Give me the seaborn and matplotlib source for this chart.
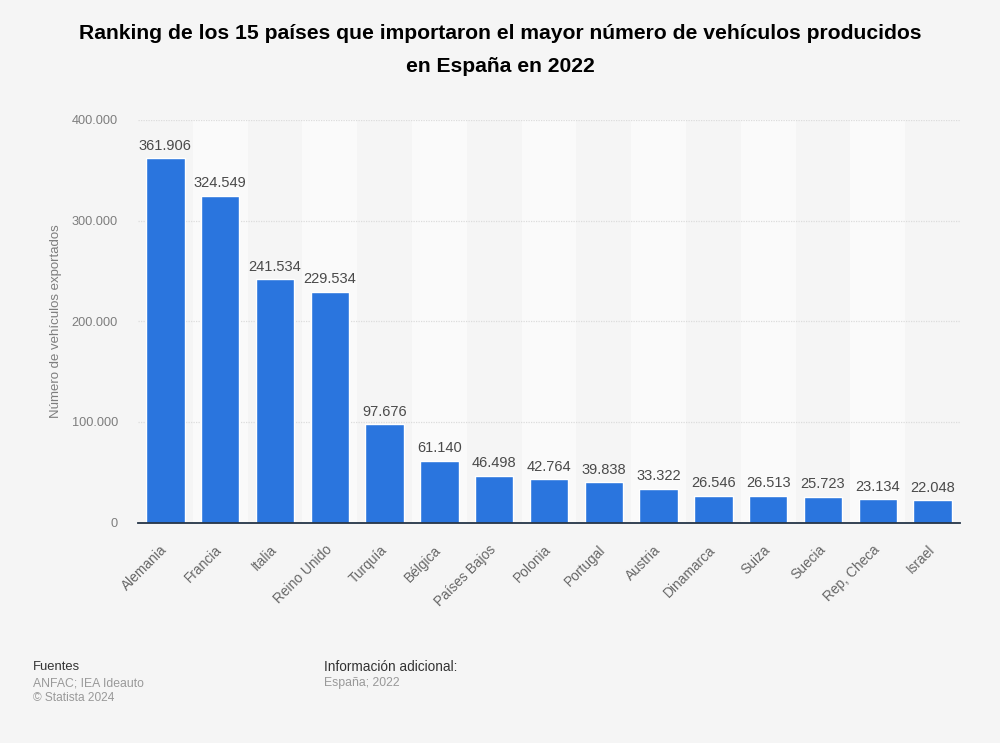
import matplotlib
matplotlib.use("Agg")
import matplotlib.pyplot as plt
from matplotlib.transforms import ScaledTranslation
import seaborn as sns
import pandas as pd

paises = ["Alemania", "Francia", "Italia", "Reino Unido", "Turquía", "Bélgica", "Países Bajos",
          "Polonia", "Portugal", "Austria", "Dinamarca", "Suiza", "Suecia", "Rep, Checa", "Israel"]
valores = [361906, 324549, 241534, 229534, 97676, 61140, 46498, 42764, 39838, 33322,
           26546, 26513, 25723, 23134, 22048]
etiquetas_y = ["0", "100.000", "200.000", "300.000", "400.000"]
ticks_y = [0, 100000, 200000, 300000, 400000]
titulo = "Ranking de los 15 países que importaron el mayor número de vehículos producidos\nen España en 2022"

sns.set_theme(style="white")
plt.rcParams["font.family"] = ["Liberation Sans", "DejaVu Sans"]

BG = "#f5f5f5"
fig = plt.figure(figsize=(10, 7.43), dpi=100, facecolor=BG)
ax = fig.add_axes([0.138, 1 - 522.5 / 743, 0.822, 402.5 / 743], facecolor=BG)

df = pd.DataFrame({"pais": paises, "valor": valores})
sns.barplot(data=df, x="pais", y="valor", color="#2a75de", saturation=1, width=0.7, ax=ax, zorder=3)

for i in range(len(paises)):
    if i % 2 == 1:
        ax.axvspan(i - 0.5, i + 0.5, color="#fafafa", lw=0, zorder=0)

ax.set_xlim(-0.5, len(paises) - 0.5)
ax.set_ylim(0, 400000)
ax.set_yticks(ticks_y, etiquetas_y)
ax.yaxis.grid(True, color="#dcdcdc", linestyle=(0, (1, 1)), linewidth=0.9, zorder=1)
ax.set_axisbelow(True)
for s in ["top", "right", "left"]:
    ax.spines[s].set_visible(False)
ax.spines["bottom"].set_color("#243447")
ax.spines["bottom"].set_linewidth(1.3)
ax.spines["bottom"].set_zorder(5)
ax.tick_params(axis="y", length=0, labelsize=9.2, labelcolor="#7d7d7d", pad=14.5)
ax.tick_params(axis="x", length=0, pad=14.5)
ax.set_xlabel("")
ax.set_ylabel("Número de vehículos exportados", fontsize=9.5, color="#7d7d7d")
ax.yaxis.set_label_coords(-(138 - 62.5) / 822, 0.5)
plt.setp(ax.get_xticklabels(), rotation=45, ha="right", rotation_mode="anchor",
         fontsize=9.9, color="#666666")
shift = ScaledTranslation(-5 / 100, 0, fig.dpi_scale_trans)
for lab in ax.get_xticklabels():
    lab.set_transform(lab.get_transform() + shift)

for i, v in enumerate(valores):
    ax.annotate(f"{v:,}".replace(",", "."), (i, v), xytext=(0, 4), textcoords="offset points",
                ha="center", va="bottom", fontsize=10.5, color="#4a4a4a", zorder=6)

fig.text(0.5, 1 - 50 / 743, titulo, ha="center", va="center", fontsize=15.2, fontweight="bold",
         color="#000000", linespacing=1.88)

fig.text(0.033, 1 - 667.5 / 743, "Fuentes", fontsize=9.4, color="#333333", va="center")
fig.text(0.033, 1 - 683 / 743, "ANFAC; IEA Ideauto", fontsize=8.8, color="#999999", va="center")
fig.text(0.033, 1 - 698 / 743, "© Statista 2024", fontsize=8.6, color="#999999", va="center")
fig.text(0.324, 1 - 667 / 743, "Información adicional:", fontsize=9.8, color="#333333", va="center")
fig.text(0.324, 1 - 683 / 743, "España; 2022", fontsize=8.8, color="#999999", va="center")

fig.savefig("out.png", dpi=100, facecolor=BG)
